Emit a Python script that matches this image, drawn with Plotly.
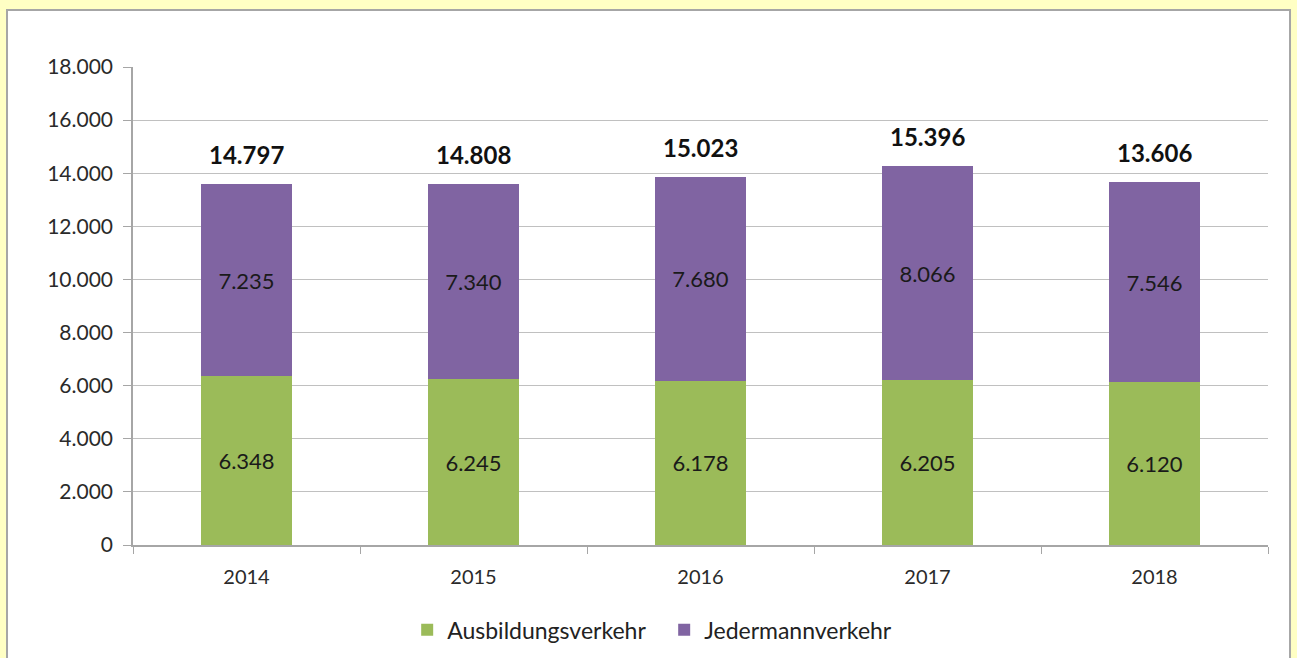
import plotly.graph_objs as go

years = ["2014", "2015", "2016", "2017", "2018"]
ausbildung = [6348, 6245, 6178, 6205, 6120]
jedermann = [7235, 7340, 7680, 8066, 7546]
totals = [14797, 14808, 15023, 15396, 13606]
y_ticks = [0, 2000, 4000, 6000, 8000, 10000, 12000, 14000, 16000, 18000]

FONT = "Lato, 'Open Sans', sans-serif"
GREEN = "#9BBB59"
PURPLE = "#8064A2"

green = go.Bar(
    x=years, y=ausbildung, name="Ausbildungsverkehr",
    marker=dict(color=GREEN, line=dict(width=0)),
    texttemplate="%{y:,d}", textposition="inside", insidetextanchor="middle",
    textangle=0, textfont=dict(size=22, color="#1a1a1a", family=FONT),
)
purple = go.Bar(
    x=years, y=jedermann, name="Jedermannverkehr",
    marker=dict(color=PURPLE, line=dict(width=0)),
    texttemplate="%{y:,d}", textposition="inside", insidetextanchor="middle",
    textangle=0, textfont=dict(size=22, color="#1a1a1a", family=FONT),
)

fig = go.Figure(data=[green, purple])

# Totals above the stacks (x given as category index)
for i, (a, j, t) in enumerate(zip(ausbildung, jedermann, totals)):
    fig.add_annotation(
        x=i, y=a + j, text=f"{t:,}".replace(",", "."),
        showarrow=False, yanchor="bottom", yshift=13,
        font=dict(size=24, color="#111111", family=FONT, weight="bold"),
    )

# white chart panel on yellow background
fig.add_shape(
    type="rect", xref="paper", yref="paper",
    x0=-0.111, x1=1.0194, y0=-0.26, y1=1.1192,
    fillcolor="white", line=dict(color="#a6a6a6", width=2), layer="below",
)

fig.update_layout(
    width=1297, height=658,
    barmode="stack", bargap=0.6,
    separators=",.",
    paper_bgcolor="#FFFFC4", plot_bgcolor="white",
    margin=dict(l=133, r=29, t=67, b=113, autoexpand=False),
    font=dict(family=FONT, size=20, color="#333333"),
    xaxis=dict(
        type="category", range=[-0.5, len(years) - 0.5],
        showline=True, linecolor="#a6a6a6", linewidth=1.5,
        ticks="outside", tickson="boundaries", ticklen=7, tickcolor="#a6a6a6",
        ticklabelstandoff=13,
        tickfont=dict(size=20, color="#2a2a2a"), tickangle=0,
    ),
    yaxis=dict(
        range=[0, 18000], tickvals=y_ticks, tickformat=",d",
        showline=True, linecolor="#a6a6a6", linewidth=1.5,
        ticks="outside", ticklen=8, tickcolor="#a6a6a6",
        ticklabelstandoff=6,
        gridcolor="#c0c0c0", gridwidth=1.2, zeroline=False,
        tickfont=dict(size=21, color="#2a2a2a"),
    ),
    legend=dict(
        orientation="h", x=0.468, xanchor="center",
        yref="container", y=0.043, yanchor="middle",
        font=dict(size=23, color="#222222"), itemwidth=30, entrywidth=212,
        traceorder="normal", bgcolor="rgba(0,0,0,0)",
    ),
)

fig.write_html("out.html", config={"displayModeBar": False},
               post_script="document.body.style.margin='0';")
